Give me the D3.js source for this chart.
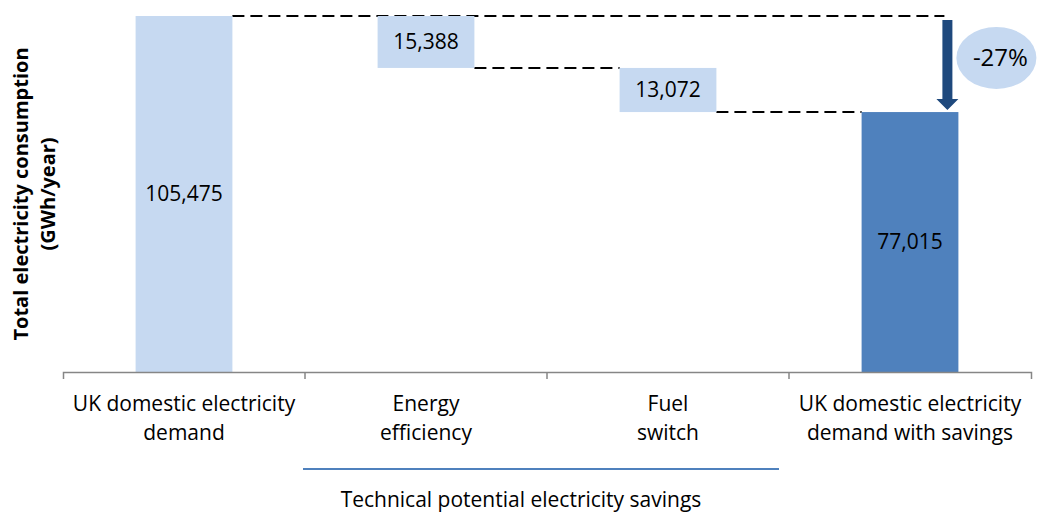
<!DOCTYPE html>
<html>
<head>
<meta charset="utf-8">
<script src="https://cdn.jsdelivr.net/npm/d3@7"></script>
<style>
    body { margin: 0; background: #fff; }
    text { font-family: "Open Sans", Lato, sans-serif; fill: #000; }
</style>
</head>
<body>
<div id="chart"></div>
<script>
    // data
    const categories = ["UK domestic electricity demand", "Energy efficiency", "Fuel switch", "UK domestic electricity demand with savings"];
    const values = [105475, 15388, 13072, 77015];
    const kinds = ["total", "decrease", "decrease", "total"];
    const tickLines = [["UK domestic electricity", "demand"], ["Energy", "efficiency"], ["Fuel", "switch"], ["UK domestic electricity", "demand with savings"]];
    const groupLabel = "Technical potential electricity savings";
    const yTitle = ["Total electricity consumption", "(GWh/year)"];

    const width = 1038, height = 512;
    const margin = { top: 16, right: 7, bottom: 140, left: 63 };

    const svg = d3.select("#chart")
        .append("svg")
        .attr("width", width)
        .attr("height", height);

    // running totals for the waterfall
    let run = 0;
    const bars = categories.map((c, i) => {
        let lo, hi;
        if (kinds[i] === "total") { lo = 0; hi = values[i]; run = values[i]; }
        else { hi = run; lo = run - values[i]; run = lo; }
        return { cat: c, value: values[i], kind: kinds[i], lo, hi };
    });

    const x = d3.scaleBand()
        .domain(categories)
        .range([margin.left, width - margin.right])
        .padding(0);

    const y = d3.scaleLinear()
        .domain([0, d3.max(values)])
        .range([height - margin.bottom, margin.top]);

    const barW = x.bandwidth() * 0.4;
    const bx = d => x(d.cat) + (x.bandwidth() - barW) / 2;

    // dashed connectors
    const dash = svg.append("g")
        .attr("stroke", "#000")
        .attr("stroke-width", 2)
        .attr("stroke-dasharray", "12,6")
        .attr("fill", "none");

    const last = bars[bars.length - 1];
    const arrowX = bx(last) + barW - 11;

    dash.append("line")
        .attr("x1", bx(bars[0]) + barW).attr("x2", arrowX - 3)
        .attr("y1", y(bars[0].hi)).attr("y2", y(bars[0].hi));
    for (let i = 1; i < bars.length - 1; i++) {
        dash.append("line")
            .attr("x1", bx(bars[i]) + barW).attr("x2", bx(bars[i + 1]))
            .attr("y1", y(bars[i].lo)).attr("y2", y(bars[i].lo));
    }

    // bars
    svg.selectAll(".bar")
        .data(bars)
        .enter().append("rect")
        .attr("class", "bar")
        .attr("x", bx)
        .attr("y", d => y(d.hi))
        .attr("width", barW)
        .attr("height", d => y(d.lo) - y(d.hi))
        .attr("fill", (d, i) => i === bars.length - 1 ? "#4f81bd" : "#c6d9f1");

    svg.selectAll(".val")
        .data(bars)
        .enter().append("text")
        .attr("class", "val")
        .attr("x", d => bx(d) + barW / 2)
        .attr("y", d => (y(d.lo) + y(d.hi)) / 2)
        .attr("dy", "0.35em")
        .attr("text-anchor", "middle")
        .style("font-size", "21px")
        .text(d => d3.format(",")(d.value));

    // x axis with ticks at band edges
    const axis = svg.append("g")
        .attr("transform", `translate(0,${y(0)})`)
        .call(d3.axisBottom(x).tickSize(0).tickSizeOuter(7).tickFormat(""));
    axis.select(".domain").attr("stroke", "#868686").attr("stroke-width", 1.5);
    axis.selectAll(".edge")
        .data(categories.slice(1))
        .enter().append("line")
        .attr("class", "edge")
        .attr("x1", d => x(d)).attr("x2", d => x(d))
        .attr("y1", 0).attr("y2", 7)
        .attr("stroke", "#868686").attr("stroke-width", 1.5);

    const tl = svg.selectAll(".tick-label")
        .data(tickLines)
        .enter().append("text")
        .attr("class", "tick-label")
        .attr("text-anchor", "middle")
        .style("font-size", "21px");
    tl.selectAll("tspan")
        .data((d, i) => d.map(s => ({ s, i })))
        .enter().append("tspan")
        .attr("x", d => x(categories[d.i]) + x.bandwidth() / 2)
        .attr("y", (d, j) => y(0) + 39 + j * 29)
        .text(d => d.s);

    // group bracket under the savings
    svg.append("line")
        .attr("x1", x(categories[1]) - 2)
        .attr("x2", x(categories[2]) + x.bandwidth() - 10)
        .attr("y1", y(0) + 97).attr("y2", y(0) + 97)
        .attr("stroke", "#4f81bd").attr("stroke-width", 2);
    svg.append("text")
        .attr("x", 521)
        .attr("y", y(0) + 135)
        .attr("text-anchor", "middle")
        .style("font-size", "21px")
        .text(groupLabel);

    // y title
    svg.append("text")
        .attr("transform", `translate(28,${(y(0) + y(d3.max(values))) / 2}) rotate(-90)`)
        .attr("text-anchor", "middle")
        .style("font-size", "20px")
        .style("font-weight", "bold")
        .selectAll("tspan")
        .data(yTitle)
        .enter().append("tspan")
        .attr("x", 0)
        .attr("dy", (d, i) => i === 0 ? 0 : 27)
        .text(d => d);

    // change arrow and percentage bubble
    const yTop = y(bars[0].hi) + 4, yBot = y(last.hi) - 2;
    svg.append("path")
        .attr("d", `M${arrowX - 5},${yTop}H${arrowX + 5}V${yBot - 11}H${arrowX + 11}L${arrowX},${yBot}L${arrowX - 11},${yBot - 11}H${arrowX - 5}Z`)
        .attr("fill", "#1f497d");

    const pct = (last.value - values[0]) / values[0];
    const cy = (y(bars[0].hi) + y(bars[1].lo)) / 2 + 16;
    svg.append("ellipse")
        .attr("cx", arrowX + 49).attr("cy", cy)
        .attr("rx", 40).attr("ry", 31)
        .attr("fill", "#c6d9f1");
    svg.append("text")
        .attr("x", arrowX + 53).attr("y", cy)
        .attr("dy", "0.35em")
        .attr("text-anchor", "middle")
        .style("font-size", "24px")
        .text(d3.format(".0%")(pct).replace("−", "-"));
</script>
</body>
</html>
